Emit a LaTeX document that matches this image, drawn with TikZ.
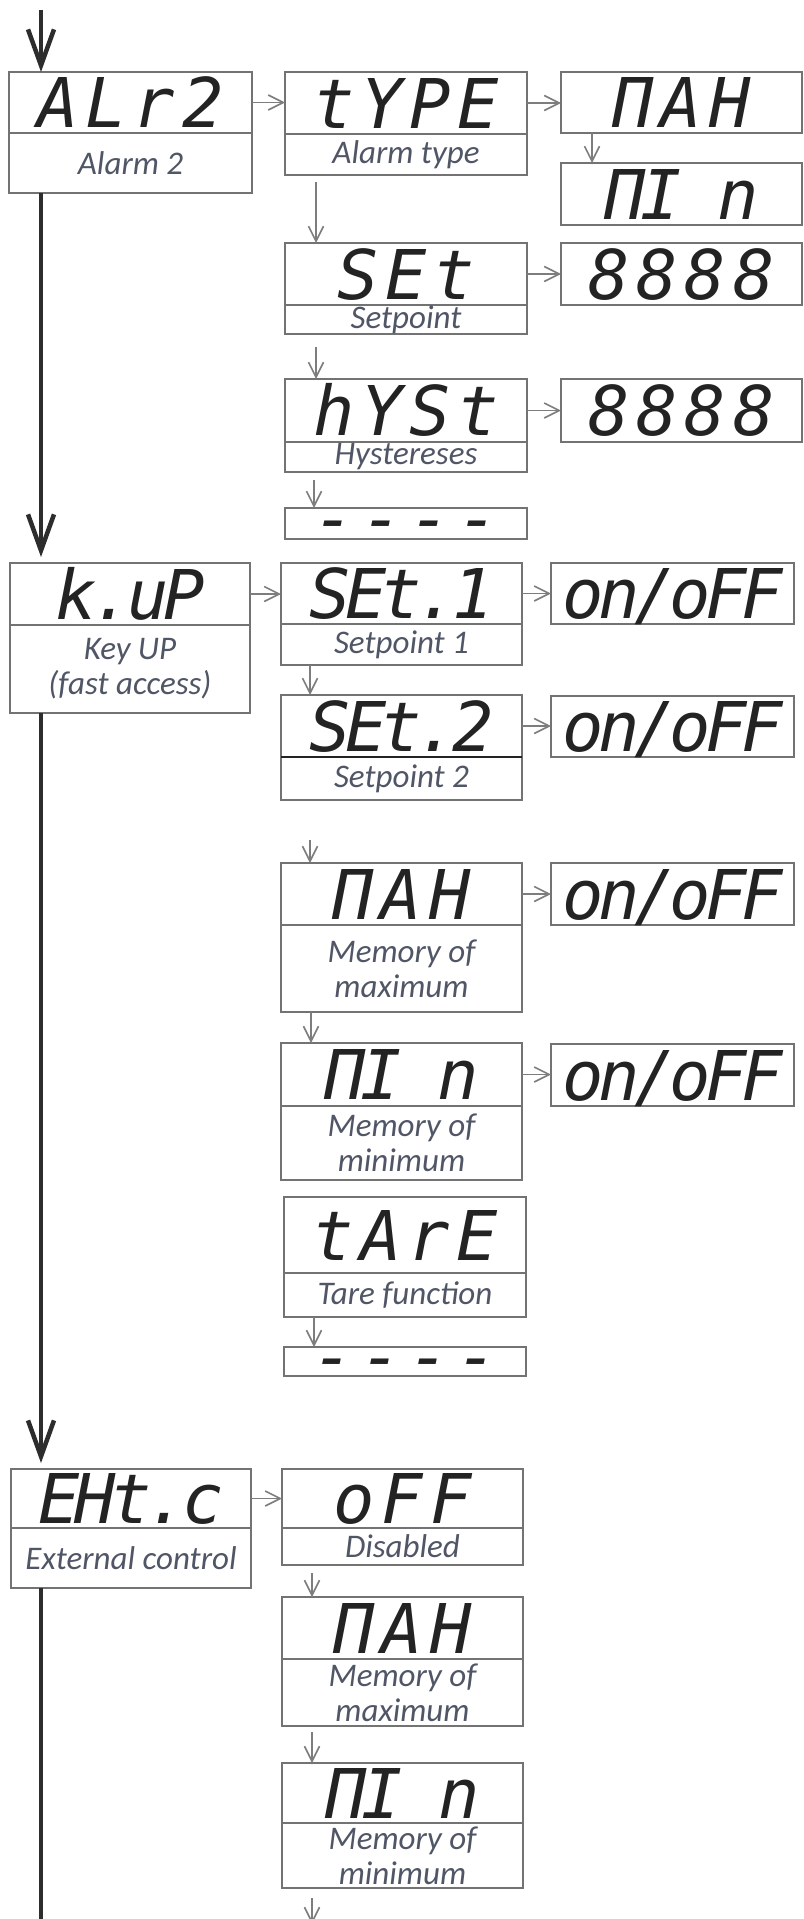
\documentclass[tikz,border=0pt]{standalone}
\usepackage{fontspec}
\setmainfont{Carlito}
\newfontfamily\segwide[LetterSpace=10]{DejaVu Sans Mono}
\newfontfamily\segtight[LetterSpace=-8]{DejaVu Sans Mono}
\usetikzlibrary{arrows.meta}
\definecolor{boxgray}{RGB}{115,115,115}
\definecolor{arrgray}{RGB}{125,125,125}
\definecolor{thickcol}{RGB}{45,45,45}
\definecolor{segblack}{RGB}{35,35,35}
\definecolor{labelcol}{RGB}{80,86,102}
\tikzset{
  boxnode/.style={draw=boxgray, line width=2pt, rectangle, inner sep=0pt, outer sep=0pt, anchor=north west},
  divline/.style={draw=boxgray, line width=2pt},
  segtext/.style={font=\segwide\itshape\fontsize{68.6pt}{70pt}\selectfont, text=segblack, inner sep=0pt, text height=50pt, text depth=0pt},
  tight/.style={font=\segtight\itshape\fontsize{68.6pt}{70pt}\selectfont},
  dashtext/.style={font=\segwide\itshape\fontsize{68.6pt}{70pt}\selectfont, text=segblack, inner sep=0pt, text height=37.4pt, text depth=0pt},
  labeltext/.style={font=\itshape\fontsize{33pt}{35pt}\selectfont, text=labelcol, align=center, inner sep=0pt},
  arr/.style={draw=arrgray, line width=1.6pt, -{Straight Barb[length=15pt,width=15pt]}},
  bigarr/.style={draw=thickcol, line width=4.5pt, -{Straight Barb[length=36pt,width=26pt]}},
  bigline/.style={draw=thickcol, line width=4.5pt}
}
% name, x1, y1, x2, ydiv, y2, segment text, label
\newcommand\dlgBox[8]{%
  \node[boxnode, minimum width={#4-#2}, minimum height={#6-#3}] (#1) at (#2,#3) {};
  \draw[divline] (#2,#5) -- (#4,#5);
  \node[segtext] (#1s) at ({(#2+#4)/2},{(#3+#5)/2}) {#7};
  \node[labeltext] (#1l) at ({(#2+#4)/2},{(#5+#6)/2}) {#8};
}
\newcommand\dlgBoxT[8]{%
  \node[boxnode, minimum width={#4-#2}, minimum height={#6-#3}] (#1) at (#2,#3) {};
  \draw[divline] (#2,#5) -- (#4,#5);
  \node[segtext,tight] (#1s) at ({(#2+#4)/2},{(#3+#5)/2}) {#7};
  \node[labeltext] (#1l) at ({(#2+#4)/2},{(#5+#6)/2}) {#8};
}
% [style], name, x1, y1, x2, y2, text
\newcommand\dlgVal[7][]{%
  \node[boxnode, minimum width={#5-#3}, minimum height={#6-#4}] (#2) at (#3,#4) {};
  \node[segtext,#1] (#2s) at ({(#3+#5)/2},{(#4+#6)/2}) {#7};
}
\newcommand\dlgStop[5]{%
  \node[boxnode, minimum width={#4-#2}, minimum height={#5-#3}] (#1) at (#2,#3) {};
  \node[dashtext] (#1s) at ({(#2+#4)/2},{(#3+#5)/2}) {----};
}
\begin{document}
\begin{tikzpicture}[x=1pt,y=-1pt]
\useasboundingbox (0,0) rectangle (803,1919);
\clip (0,0) rectangle (803,1919);
\fill[white] (0,0) rectangle (803,1919);

% ---- group 1: Alarm 2
\dlgBox{alr2}{9}{72}{252}{133}{193}{ALr2}{Alarm 2}
\dlgBox{type}{285}{72}{527}{134}{175}{tYPE}{Alarm type}
\dlgVal{maxa}{561}{72}{802}{133}{ΠAH}
\dlgVal[tight]{mina}{561}{163}{802}{225}{ΠI n}
\dlgBox{set}{285}{243}{527}{305}{334}{SEt}{Setpoint}
\dlgVal{vala}{561}{243}{802}{305}{8888}
\dlgBox{hyst}{285}{379}{527}{442}{472}{hYSt}{Hystereses}
\dlgVal{valb}{561}{379}{802}{442}{8888}
\dlgStop{enda}{285}{508}{527}{539}

% ---- group 2: Key UP
\dlgBoxT{kup}{10}{563}{250}{625}{713}{k.uP}{Key UP\\(fast access)}
\dlgBoxT{seta}{281}{563}{522}{624}{665}{SEt.1}{Setpoint 1}
\dlgVal[tight]{ona}{551}{563}{794}{624}{on/oFF}
\dlgBoxT{setb}{281}{695}{522}{757}{800}{SEt.2}{Setpoint 2}
\draw[draw=segblack, line width=2.6pt] (281,757) -- (522,757);
\dlgVal[tight]{onb}{551}{696}{794}{757}{on/oFF}
\dlgBox{maxb}{281}{863}{522}{925}{1012}{ΠAH}{Memory of\\maximum}
\dlgVal[tight]{onc}{551}{863}{794}{925}{on/oFF}
\dlgBoxT{minb}{281}{1043}{522}{1106}{1180}{ΠI n}{Memory of\\minimum}
\dlgVal[tight]{ond}{551}{1044}{794}{1106}{on/oFF}
\dlgBox{tare}{284}{1197}{526}{1273}{1317}{tArE}{Tare function}
\dlgStop{endb}{284}{1347}{526}{1376}

% ---- group 3: External control
\dlgBoxT{ehtc}{11}{1469}{251}{1528}{1588}{EHt.c}{External control}
\dlgBox{off}{282}{1469}{523}{1528}{1565}{oFF}{Disabled}
\dlgBox{maxc}{282}{1597}{523}{1659}{1726}{ΠAH}{Memory of\\maximum}
\dlgBoxT{minc}{282}{1763}{523}{1823}{1888}{ΠI n}{Memory of\\minimum}

% ---- thin connectors
\draw[arr] (alr2.east |- alr2s) -- (type.west |- alr2s);
\draw[arr] (type.east |- types) -- (maxa.west |- types);
\draw[arr] ([xshift=31pt]maxa.south west) -- ([xshift=31pt]maxa.south west |- mina.north);
\draw[arr, shorten <=7pt] ([xshift=31pt]type.south west) -- ([xshift=31pt]type.south west |- set.north);
\draw[arr] (set.east |- sets) -- (vala.west |- sets);
\draw[arr, shorten <=13pt] ([xshift=31pt]set.south west) -- ([xshift=31pt]set.south west |- hyst.north);
\draw[arr] (hyst.east |- hysts) -- (valb.west |- hysts);
\draw[arr, shorten <=8pt] ([xshift=29pt]hyst.south west) -- ([xshift=29pt]hyst.south west |- enda.north);
\draw[arr] (kup.east |- kups) -- (seta.west |- kups);
\draw[arr] (seta.east |- setas) -- (ona.west |- setas);
\draw[arr] ([xshift=29pt]seta.south west) -- ([xshift=29pt]seta.south west |- setb.north);
\draw[arr] (setb.east |- setbs) -- (onb.west |- setbs);
\draw[arr, shorten <=40pt] ([xshift=29pt]setb.south west) -- ([xshift=29pt]setb.south west |- maxb.north);
\draw[arr] (maxb.east |- maxbs) -- (onc.west |- maxbs);
\draw[arr] ([xshift=30pt]maxb.south west) -- ([xshift=30pt]maxb.south west |- minb.north);
\draw[arr] (minb.east |- minbs) -- (ond.west |- minbs);
\draw[arr] ([xshift=30pt]tare.south west) -- ([xshift=30pt]tare.south west |- endb.north);
\draw[arr] (ehtc.east |- ehtcs) -- (off.west |- ehtcs);
\draw[arr, shorten <=8pt] ([xshift=30pt]off.south west) -- ([xshift=30pt]off.south west |- maxc.north);
\draw[arr, shorten <=6pt] ([xshift=30pt]maxc.south west) -- ([xshift=30pt]maxc.south west |- minc.north);
\coordinate (tail) at (312,1924);
\draw[arr, shorten <=10pt] ([xshift=30pt]minc.south west) -- ([xshift=30pt]minc.south west |- tail);

% ---- thick main line
\coordinate (start) at (41,10);
\draw[bigarr] (start) -- (start |- alr2.north);
\draw[bigarr, shorten >=6pt] ([xshift=32pt]alr2.south west) -- ([xshift=32pt]alr2.south west |- kup.north);
\draw[bigarr, shorten >=6pt] ([xshift=31pt]kup.south west) -- ([xshift=31pt]kup.south west |- ehtc.north);
\coordinate (tailend) at (41,1930);
\draw[bigline] ([xshift=30pt]ehtc.south west) -- ([xshift=30pt]ehtc.south west |- tailend);
\end{tikzpicture}
\end{document}
